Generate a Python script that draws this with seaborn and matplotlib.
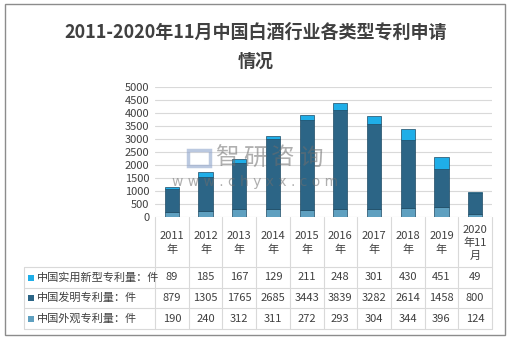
import matplotlib
matplotlib.use("Agg")
import matplotlib.pyplot as plt
import seaborn as sns
import pandas as pd
import numpy as np
from matplotlib.patches import Rectangle

categories = ["2011年", "2012年", "2013年", "2014年", "2015年", "2016年", "2017年", "2018年", "2019年", "2020年11月"]
header_labels = ["2011\n年", "2012\n年", "2013\n年", "2014\n年", "2015\n年", "2016\n年", "2017\n年", "2018\n年", "2019\n年", "2020\n年11\n月"]
utility = [89, 185, 167, 129, 211, 248, 301, 430, 451, 49]
invention = [879, 1305, 1765, 2685, 3443, 3839, 3282, 2614, 1458, 800]
design = [190, 240, 312, 311, 272, 293, 304, 344, 396, 124]
series_names = ["中国实用新型专利量：件", "中国发明专利量：件", "中国外观专利量：件"]
title_line1 = "2011-2020年11月中国白酒行业各类型专利申请"
title_line2 = "情况"

sns.set_theme(style="white")
plt.rcParams['font.family'] = ['Noto Sans CJK SC', 'DejaVu Sans']

W, H = 511, 340
fig = plt.figure(figsize=(W / 100, H / 100), dpi=100)

def fx(x):
    return x / W

def fy(y):
    return 1 - y / H

ax_l, ax_r, ax_t, ax_b = 155, 492, 87, 217
ax = fig.add_axes([fx(ax_l), fy(ax_b), fx(ax_r) - fx(ax_l), fy(ax_t) - fy(ax_b)])

c_util = "#1faee8"
c_inv = "#2c6586"
c_des = "#5fa0c0"
c_edge = "#1d4a64"

df = pd.DataFrame({"cat": categories, "utility": utility, "invention": invention, "design": design})
df["b2"] = df["design"]
df["b3"] = df["design"] + df["invention"]

bw = 0.42
kw = dict(width=bw, ax=ax, saturation=1, edgecolor=c_edge, linewidth=0.5)
sns.barplot(data=df, x="cat", y="design", color=c_des, **kw)
sns.barplot(data=df, x="cat", y="invention", bottom=df["b2"].values, color=c_inv, **kw)
sns.barplot(data=df, x="cat", y="utility", bottom=df["b3"].values, color=c_util, **kw)

ax.set_xlim(-0.5, len(categories) - 0.5)
ax.set_ylim(0, 5000)
ax.set_yticks(np.arange(0, 5001, 500))
ax.set_yticklabels([str(v) for v in range(0, 5001, 500)], fontsize=8, color="#404040")
ax.set_xticks([])
ax.set_xlabel("")
ax.set_ylabel("")
ax.yaxis.grid(True, color="#d9d9d9", linewidth=0.8)
ax.set_axisbelow(True)
for s in ax.spines.values():
    s.set_visible(False)
ax.tick_params(axis="y", length=0, pad=4)

# overlay in pixel coordinates
ov = fig.add_axes([0, 0, 1, 1], facecolor="none")
ov.set_xlim(0, W)
ov.set_ylim(H, 0)
ov.axis("off")

# figure frame
ov.add_patch(Rectangle((5, 4), 500, 331, fill=False, edgecolor="#8c8c8c", linewidth=1))

# watermark
ov.add_patch(Rectangle((188, 150), 22, 16, fill=False, edgecolor="#8fa5cc", linewidth=2.5, alpha=0.6, zorder=5))
for k, ch in enumerate("智研咨询"):
    ov.text(227 + k * 28, 158, ch, fontsize=17, color="#6e6e6e", alpha=0.55, ha="center", va="center", zorder=5)
ov.text(255, 182, "w w w . c h y x x . c o m", fontsize=10, color="#6e6e6e", alpha=0.55,
        ha="center", va="center", family="DejaVu Sans", zorder=5)

# title
ov.text(256, 32, title_line1, fontsize=13, color="#404040",
        ha="center", va="center", fontweight="bold")
ov.text(256, 61, title_line2, fontsize=13, color="#404040", ha="center", va="center", fontweight="bold")

# table
lc = "#d9d9d9"
n = len(categories)
cw = (ax_r - ax_l) / n
row_y = [267, 288, 308, 329]
for i in range(n + 1):
    x = ax_l + i * cw
    ov.plot([x, x], [ax_b, row_y[-1]], color=lc, linewidth=0.8)
ov.plot([24, 24], [row_y[0], row_y[-1]], color=lc, linewidth=0.8)
for y in row_y:
    ov.plot([24, ax_r], [y, y], color=lc, linewidth=0.8)

for i, lab in enumerate(header_labels):
    xc = ax_l + (i + 0.5) * cw
    ov.text(xc, 243, lab, fontsize=8, color="#404040", ha="center", va="center", linespacing=1.35)

rows = [(series_names[0], utility, c_util), (series_names[1], invention, c_inv), (series_names[2], design, c_des)]
for r, (name, vals, col) in enumerate(rows):
    yc = (row_y[r] + row_y[r + 1]) / 2
    ov.add_patch(Rectangle((28, yc - 3), 6, 6, facecolor=col, edgecolor="none"))
    ov.text(37, yc, name, fontsize=8, color="#404040", ha="left", va="center")
    for i, v in enumerate(vals):
        xc = ax_l + (i + 0.5) * cw
        ov.text(xc, yc, str(v), fontsize=8, color="#404040", ha="center", va="center")

fig.savefig("out.png", dpi=100)
